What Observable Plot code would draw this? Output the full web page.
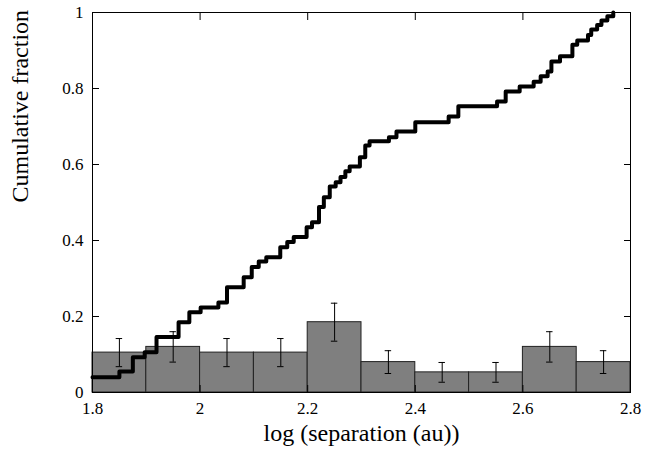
<!DOCTYPE html>
<html><head><meta charset="utf-8">
<script src="https://cdn.jsdelivr.net/npm/d3@7"></script>
<script src="https://cdn.jsdelivr.net/npm/@observablehq/plot@0.6"></script>
<style>body{margin:0;background:#fff}</style>
</head><body><div id="chart"></div>
<script>
// histogram bins (log separation), fraction and error
const binStart = [1.8, 1.9, 2.0, 2.1, 2.2, 2.3, 2.4, 2.5, 2.6, 2.7]
const binFrac = [0.105, 0.12, 0.105, 0.105, 0.185, 0.08, 0.053, 0.053, 0.12, 0.08]
const binErr = [0.037, 0.04, 0.037, 0.037, 0.05, 0.03, 0.026, 0.026, 0.04, 0.03]

// cumulative distribution steps
const cumX = [1.8, 1.850, 1.875, 1.897, 1.919, 1.960, 1.980, 2.001, 2.034, 2.050, 2.081, 2.096, 2.109, 2.123,
  2.149, 2.162, 2.174, 2.198, 2.208, 2.221, 2.230, 2.241, 2.252, 2.261, 2.270, 2.278, 2.297, 2.307, 2.315,
  2.351, 2.365, 2.400, 2.462, 2.480, 2.552, 2.568, 2.594, 2.620, 2.633, 2.646, 2.653, 2.669, 2.692, 2.701,
  2.721, 2.727, 2.738, 2.746, 2.757, 2.768]
const cumY = [0.04, 0.055, 0.093, 0.106, 0.146, 0.185, 0.211, 0.224, 0.237, 0.277, 0.303, 0.33, 0.345, 0.356,
  0.382, 0.396, 0.409, 0.435, 0.448, 0.488, 0.514, 0.542, 0.553, 0.567, 0.582, 0.595, 0.619, 0.65, 0.661,
  0.672, 0.687, 0.711, 0.726, 0.753, 0.766, 0.792, 0.805, 0.818, 0.832, 0.845, 0.871, 0.885, 0.915, 0.926,
  0.941, 0.955, 0.967, 0.979, 0.99, 1.0]
const xTicks = [1.8, 2, 2.2, 2.4, 2.6, 2.8]
const yTicks = [0, 0.2, 0.4, 0.6, 0.8, 1]

const bins = binStart.map((x, i) => ({x1: x, x2: x + 0.1, c: x + 0.05, y: binFrac[i], e: binErr[i]}))
const cum = cumX.map((x, i) => ({x, y: cumY[i]}))
const fmt = d => String(+d.toFixed(1))
const blank = () => ''

let chart = Plot.plot({
  width: 646,
  height: 455,
  marginLeft: 92,
  marginRight: 16,
  marginTop: 12,
  marginBottom: 63,
  x: {domain: [1.8, 2.8]},
  y: {domain: [0, 1]},
  style: {fontFamily: '"Liberation Serif", serif', fontSize: 17, color: 'black'},
  marks: [
    Plot.rectY(bins, {x1: 'x1', x2: 'x2', y: 'y', fill: '#7f7f7f', stroke: '#222', strokeWidth: 1}),
    Plot.ruleX(bins, {x: 'c', y1: d => d.y - d.e, y2: d => d.y + d.e, strokeWidth: 1}),
    Plot.ruleY(bins, {y: d => d.y + d.e, x1: d => d.c - 0.006, x2: d => d.c + 0.006}),
    Plot.ruleY(bins, {y: d => d.y - d.e, x1: d => d.c - 0.006, x2: d => d.c + 0.006}),
    Plot.line(cum, {x: 'x', y: 'y', curve: 'step-after', strokeWidth: 4, stroke: 'black'}),
    Plot.frame({stroke: 'black', strokeWidth: 1}),
    Plot.axisX({ticks: xTicks, tickSize: -7, tickPadding: 16, tickFormat: fmt, label: null, fontSize: 17}),
    Plot.axisX({anchor: 'top', ticks: xTicks, tickSize: -7, tickFormat: blank, label: null}),
    Plot.axisY({ticks: yTicks, tickSize: -7, tickPadding: 16, tickFormat: fmt, label: null, fontSize: 17}),
    Plot.axisY({anchor: 'right', ticks: yTicks, tickSize: -7, tickFormat: blank, label: null}),
    Plot.text(['log (separation (au))'], {frameAnchor: 'bottom', dy: 48, fontSize: 24}),
    Plot.text(['Cumulative fraction'], {frameAnchor: 'left', dx: -72, rotate: -90, fontSize: 24})
  ]
})
d3.select('#chart').append(() => chart)
</script>
</body></html>
